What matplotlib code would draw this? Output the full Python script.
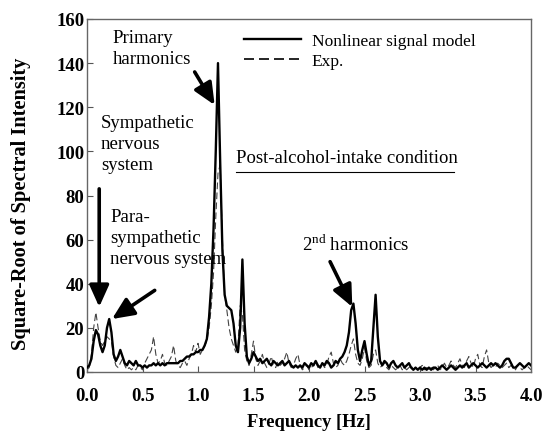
import numpy as np
import matplotlib
matplotlib.use("Agg")
import matplotlib.pyplot as plt

freq = np.round(np.arange(0, 201) * 0.02, 2)

model = [
    2, 3, 6, 14, 19, 17, 12, 9, 12, 20,          # 0.00-0.18
    24, 18, 8, 5, 7, 10, 7, 4, 3, 5,             # 0.20-0.38
    4, 3, 5, 3, 3, 2, 3, 2, 3, 3,                # 0.40-0.58
    4, 3, 4, 3, 4, 3, 4, 4, 4, 4,                # 0.60-0.78
    4, 4, 5, 5, 6, 7, 7, 8, 8, 9,                # 0.80-0.98
    9, 10, 10, 12, 15, 25, 40, 65, 100, 140,     # 1.00-1.18
    95, 55, 35, 30, 29, 28, 22, 12, 9, 20,       # 1.20-1.38
    51, 22, 7, 4, 6, 9, 7, 5, 6, 4,              # 1.40-1.58
    5, 6, 4, 3, 5, 4, 3, 4, 5, 3,                # 1.60-1.78
    4, 5, 3, 2, 3, 2, 3, 2, 4, 3,                # 1.80-1.98
    2, 4, 3, 5, 3, 2, 4, 3, 5, 4,                # 2.00-2.18
    2, 3, 5, 4, 6, 7, 9, 12, 18, 28,             # 2.20-2.38
    31, 22, 10, 5, 10, 14, 8, 3, 5, 20,          # 2.40-2.58
    35, 16, 5, 3, 5, 4, 2, 4, 5, 3,              # 2.60-2.78
    2, 3, 4, 2, 3, 4, 2, 1, 2, 1,                # 2.80-2.98
    2, 1, 2, 1, 2, 1, 2, 2, 1, 2,                # 3.00-3.18
    3, 2, 1, 2, 3, 2, 1, 2, 3, 2,                # 3.20-3.38
    3, 4, 2, 3, 4, 3, 2, 3, 4, 3,                # 3.40-3.58
    2, 3, 4, 3, 4, 3, 2, 3, 5, 6,                # 3.60-3.78
    6, 4, 2, 2, 3, 4, 3, 2, 3, 4,                # 3.80-3.98
    3,                                           # 4.00
]

exp = [
    1, 2, 8, 20, 27, 20, 14, 12, 14, 16,         # 0.00-0.18
    15, 14, 7, 3, 2, 4, 6, 3, 1, 2,              # 0.20-0.38
    1, 2, 1, 3, 2, 1, 4, 6, 8, 10,               # 0.40-0.58
    16, 8, 4, 5, 8, 4, 3, 5, 7, 12,              # 0.60-0.78
    5, 3, 2, 4, 5, 3, 6, 8, 12, 9,               # 0.80-0.98
    13, 8, 10, 12, 14, 20, 30, 45, 70, 90,       # 1.00-1.18
    94, 60, 35, 28, 20, 15, 12, 9, 12, 30,       # 1.20-1.38
    26, 10, 5, 3, 8, 14, 6, 3, 5, 8,             # 1.40-1.58
    4, 2, 4, 7, 3, 2, 5, 3, 4, 6,                # 1.60-1.78
    9, 4, 2, 3, 6, 8, 3, 1, 2, 3,                # 1.80-1.98
    1, 2, 3, 5, 2, 3, 4, 2, 3, 7,                # 2.00-2.18
    9, 4, 2, 3, 6, 4, 3, 5, 8, 12,               # 2.20-2.38
    15, 8, 4, 3, 6, 11, 5, 2, 3, 8,              # 2.40-2.58
    10, 4, 2, 3, 4, 2, 1, 3, 2, 1,               # 2.60-2.78
    2, 3, 1, 2, 1, 2, 3, 1, 2, 1,                # 2.80-2.98
    2, 3, 1, 2, 1, 2, 1, 2, 3, 1,                # 3.00-3.18
    2, 4, 2, 3, 5, 3, 2, 4, 6, 3,                # 3.20-3.38
    2, 5, 7, 4, 2, 6, 8, 3, 2, 7,                # 3.40-3.58
    10, 4, 2, 3, 2, 4, 3, 2, 3, 4,               # 3.60-3.78
    2, 3, 2, 1, 3, 2, 1, 2, 3, 2,                # 3.80-3.98
    1,                                           # 4.00
]

xticks = [0.0, 0.5, 1.0, 1.5, 2.0, 2.5, 3.0, 3.5, 4.0]
yticks = [0, 20, 40, 60, 80, 100, 120, 140, 160]

plt.rcParams['font.family'] = ['Liberation Serif', 'DejaVu Serif']
plt.rcParams['mathtext.fontset'] = 'custom'
plt.rcParams['mathtext.rm'] = 'Liberation Serif'

fig = plt.figure(figsize=(5.47, 4.39), dpi=100)
ax = fig.add_axes([87/547, 66/439, 444/547, 353/439])

ax.plot(freq, exp, color='#444444', lw=0.8, ls=(0, (6, 3)), label='Exp.', zorder=2)
ax.plot(freq, model, color='black', lw=1.7, label='Nonlinear signal model', zorder=3)

ax.set_xlim(0, 4.0)
ax.set_ylim(0, 160)
ax.set_xticks(xticks)
ax.set_xticklabels([f"{t:.1f}" for t in xticks])
ax.set_yticks(yticks)
ax.set_yticklabels([str(t) for t in yticks])
ax.tick_params(direction='in', length=4, width=0.8, colors='#555555', labelcolor='black', labelsize=13.5)
ax.tick_params(axis='x', pad=11)
ax.tick_params(axis='y', pad=2)
for lab in ax.get_xticklabels() + ax.get_yticklabels():
    lab.set_fontweight('bold')
for sp in ax.spines.values():
    sp.set_color('#666666')
    sp.set_linewidth(1.0)

ax.set_xlabel('Frequency [Hz]', fontsize=13.3, fontweight='bold', labelpad=6)
ax.set_ylabel('Square-Root of Spectral Intensity', fontsize=14.7, fontweight='bold')
ax.yaxis.set_label_coords(-0.125, 0.479)

handles, labels = ax.get_legend_handles_labels()
leg = ax.legend(handles[::-1], labels[::-1], loc='upper left', bbox_to_anchor=(0.33, 0.99),
                frameon=False, fontsize=12.5, handlelength=3.3, handletextpad=0.6,
                labelspacing=0.2, borderaxespad=0.2)
leg.get_lines()[1].set_linewidth(1.2)
leg.get_lines()[1].set_color('black')

tk = dict(fontsize=13.5, color='black', linespacing=1.33)
ax.text(0.23, 155.5, 'Primary\nharmonics', ha='left', va='top', **tk)
ax.text(0.125, 117, 'Sympathetic\nnervous\nsystem', ha='left', va='top', **tk)
ax.text(0.21, 74.5, 'Para-\nsympathetic\nnervous system', ha='left', va='top', **tk)
ax.text(1.34, 97, 'Post-alcohol-intake condition', ha='left', va='center', **tk)
ax.plot([1.34, 3.31], [90.5, 90.5], color='black', lw=0.8)  # underline
ax.text(1.94, 58, '2$^{\\mathrm{nd}}$ harmonics', ha='left', va='center', **tk)

ap = dict(arrowstyle='-|>,head_length=0.6,head_width=0.27', lw=2.6, color='black',
          mutation_scale=22, shrinkA=0, shrinkB=0)
ax.annotate('', xy=(1.15, 121), xytext=(0.97, 136), arrowprops=ap)
ax.annotate('', xy=(0.11, 29.5), xytext=(0.11, 83), arrowprops=ap)
ax.annotate('', xy=(0.225, 24), xytext=(0.61, 37), arrowprops=ap)
ax.annotate('', xy=(2.39, 29.5), xytext=(2.19, 50), arrowprops=ap)

fig.savefig('out.png', dpi=100)
